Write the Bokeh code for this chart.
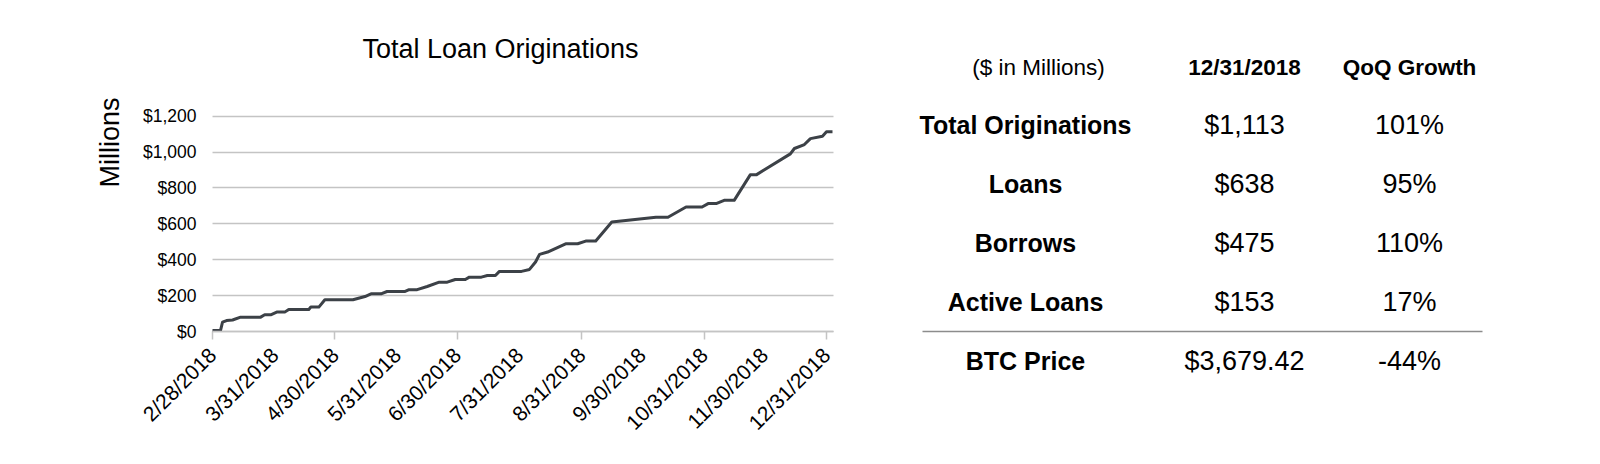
from math import pi

import pandas as pd
from bokeh.core.properties import value
from bokeh.embed import file_html
from bokeh.models import FixedTicker, Grid, NumeralTickFormatter, Range1d
from bokeh.plotting import figure
from bokeh.resources import INLINE

# cumulative originations ($ millions)
dates = [
    "2018-02-28", "2018-03-04", "2018-03-05", "2018-03-07", "2018-03-10", "2018-03-14",
    "2018-03-24", "2018-03-26", "2018-03-29", "2018-04-01", "2018-04-05", "2018-04-07",
    "2018-04-17", "2018-04-18", "2018-04-22", "2018-04-25", "2018-05-09", "2018-05-15",
    "2018-05-18", "2018-05-23", "2018-05-26", "2018-06-04", "2018-06-06", "2018-06-10",
    "2018-06-15", "2018-06-21", "2018-06-25", "2018-06-29", "2018-07-04", "2018-07-06",
    "2018-07-12", "2018-07-15", "2018-07-19", "2018-07-21", "2018-08-01", "2018-08-05",
    "2018-08-08", "2018-08-10", "2018-08-14", "2018-08-23", "2018-08-29", "2018-09-02",
    "2018-09-07", "2018-09-15", "2018-10-07", "2018-10-13", "2018-10-22", "2018-10-30",
    "2018-11-02", "2018-11-06", "2018-11-10", "2018-11-15", "2018-11-23", "2018-11-26",
    "2018-12-13", "2018-12-15", "2018-12-20", "2018-12-23", "2018-12-29", "2018-12-31",
    "2019-01-03",
]
totals = [
    6, 6, 52, 61, 64, 80,
    80, 93, 93, 108, 108, 123,
    123, 136, 136, 177, 177, 195,
    210, 210, 223, 223, 233, 233,
    251, 275, 275, 290, 290, 303,
    303, 312, 312, 335, 335, 346,
    387, 430, 443, 489, 489, 504,
    504, 610, 637, 637, 694, 694,
    713, 713, 731, 731, 873, 873,
    990, 1020, 1042, 1075, 1088, 1113,
    1113,
]

month_ends = [
    "2018-02-28", "2018-03-31", "2018-04-30", "2018-05-31", "2018-06-30", "2018-07-31",
    "2018-08-31", "2018-09-30", "2018-10-31", "2018-11-30", "2018-12-31",
]
y_ticks = [0, 200, 400, 600, 800, 1000, 1200]

header = ["($ in Millions)", "12/31/2018", "QoQ Growth"]
metrics = ["Total Originations", "Loans", "Borrows", "Active Loans", "BTC Price"]
amounts = ["$1,113", "$638", "$475", "$153", "$3,679.42"]
growth = ["101%", "95%", "110%", "17%", "-44%"]

FONT = "Liberation Sans"
GRID = "#c4c4c4"
W, H = 1600, 464

# where the chart's plot area sits on the canvas (pixels); the frame itself
# covers the whole canvas so the title and the table can live in it too
FL, FR, FT, FB = 212, 833, 115.7, 331
X0, X1 = pd.Timestamp("2018-02-28"), pd.Timestamp("2019-01-03 12:00")
YMAX = 1200


def ms(d):
    return int(pd.Timestamp(d).value // 10**6)


def at_x(px):
    return ms(X0) + (px - FL) / (FR - FL) * (ms(X1) - ms(X0))


def at_y(py):
    return (FB - py) / (FB - FT) * YMAX


p = figure(
    width=W, height=H, x_axis_type="datetime",
    x_range=Range1d(at_x(0), at_x(W)), y_range=Range1d(at_y(H), at_y(0)),
    toolbar_location=None, output_backend="svg", min_border=0,
)
p.outline_line_color = None
p.xgrid.visible = False

xt = [ms(d) for d in month_ends]
p.xaxis.fixed_location = 0
p.xaxis.bounds = (ms(X0), ms(X1))
p.xaxis.ticker = FixedTicker(ticks=xt, minor_ticks=xt[::2])
p.xaxis.major_label_overrides = {
    ms(d): "{}/{}/{}".format(pd.Timestamp(d).month, pd.Timestamp(d).day, pd.Timestamp(d).year)
    for d in month_ends
}
p.xaxis.major_label_orientation = pi / 4
p.xaxis.major_tick_out = 0
p.xaxis.major_tick_in = 0
p.xaxis.minor_tick_out = 8
p.xaxis.minor_tick_in = 0
p.xaxis.minor_tick_line_color = GRID
p.xaxis.minor_tick_line_width = 1.5
p.xaxis.axis_line_color = GRID
p.xaxis.axis_line_width = 1.5
p.xaxis.major_label_standoff = 12
p.xaxis.major_label_text_font_size = "21px"

p.yaxis.fixed_location = ms(X0)
p.yaxis.bounds = (0, YMAX)
p.yaxis.ticker = FixedTicker(ticks=y_ticks)
p.yaxis.formatter = NumeralTickFormatter(format="$0,0")
p.yaxis.axis_line_color = None
p.yaxis.major_tick_line_color = None
p.yaxis.minor_tick_line_color = None
p.yaxis.major_tick_out = 0
p.yaxis.major_label_standoff = 16
p.yaxis.major_label_text_font_size = "17.5px"

for ax in (p.xaxis, p.yaxis):
    ax.major_label_text_font = FONT
    ax.major_label_text_color = "black"

if "cross_bounds" in Grid.properties():
    p.ygrid.grid_line_color = GRID
    p.ygrid.grid_line_width = 1.3
    p.ygrid.cross_bounds = (ms(X0), ms(X1))
else:
    p.ygrid.visible = False
    p.segment(x0=[ms(X0)] * len(y_ticks), y0=y_ticks, x1=[ms(X1)] * len(y_ticks), y1=y_ticks,
              line_color=GRID, line_width=1.3)

p.line(pd.to_datetime(dates), totals, line_width=3, line_color="#3c4147", line_join="round")


def put(px, py, texts, size, style="normal", baseline="middle", angle=0):
    p.text(
        x=[at_x(v) for v in px], y=[at_y(v) for v in py], text=texts, angle=angle,
        text_font=value(FONT), text_font_size=size, text_font_style=style,
        text_color="black", text_align="center", text_baseline=baseline,
    )


put([500], [48], ["Total Loan Originations"], "27px", baseline="alphabetic")
put([109], [142], ["Millions"], "27px", angle=pi / 2)

# summary table to the right of the chart
col_x = [1025, 1244, 1409]
head_y = 67
row_y = [124, 183, 242, 301, 360]
n = len(metrics)

put([1038], [head_y], header[:1], "22.5px")
put(col_x[1:], [head_y] * 2, header[1:], "22.5px", "bold")
put([col_x[0]] * n, row_y, metrics, "25px", "bold")
put([col_x[1]] * n, row_y, amounts, "27px")
put([col_x[2]] * n, row_y, growth, "27px")

p.segment(x0=[at_x(922)], y0=[at_y(331)], x1=[at_x(1482)], y1=[at_y(331)],
          line_color="#8c8c8c", line_width=1.5)

open("out.html", "w").write(file_html(p, INLINE))
